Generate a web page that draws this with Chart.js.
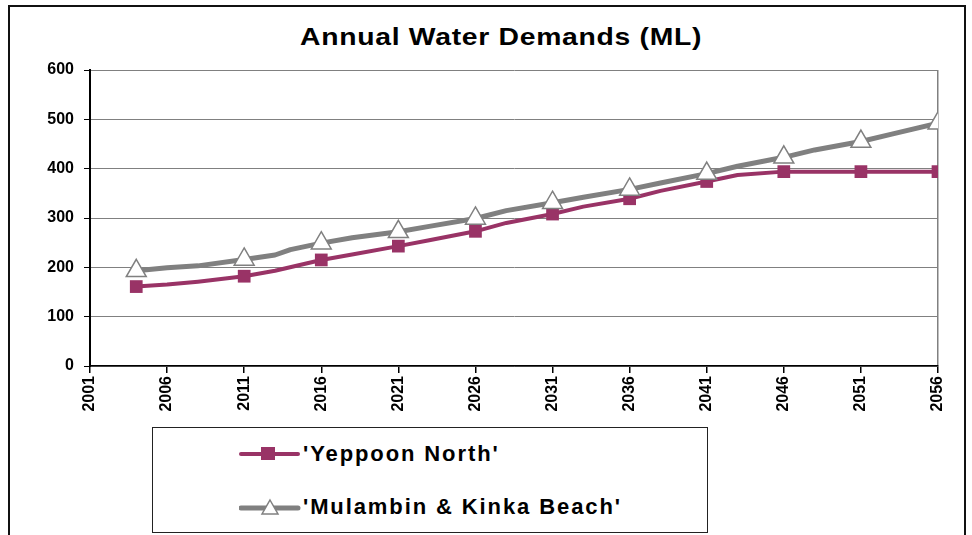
<!DOCTYPE html>
<html>
<head>
  <title>Annual Water Demands</title>
  <script src="https://cdnjs.cloudflare.com/ajax/libs/Chart.js/4.4.1/chart.umd.min.js"></script>
  <style>
    body { margin: 0; background: #fff; font-family: "Liberation Sans", Arial, sans-serif; }
    #frame {
      position: absolute; left: 8px; top: 5px; width: 958px; height: 600px;
      border: 2px solid #111; box-sizing: border-box;
    }
    #title {
      position: absolute; left: 300px; top: 25px; white-space: nowrap;
      font-weight: bold; font-size: 24px; line-height: 24px; letter-spacing: 0.6px; color: #000;
      transform: scaleX(1.18); transform-origin: left top;
    }
    #wrap { position: absolute; left: 0; top: 0; width: 972px; height: 420px; }
    #legend {
      position: absolute; left: 152px; top: 427px; width: 556px; height: 106px;
      border: 1px solid #222; box-sizing: border-box; background: #fff;
    }
    .item { position: absolute; left: 86px; height: 30px; display: flex; align-items: center; }
    .item span { font-weight: bold; font-size: 22px; letter-spacing: 1.9px; color: #000; margin-left: 2px; }
  </style>
</head>
<body>
<div id="frame"></div>
<div id="title"></div>
<div id="wrap"><canvas id="myChart" width="972" height="420"></canvas></div>
<div id="legend">
  <div class="item" style="top:11px">
    <svg width="62" height="20"><line x1="2" y1="10" x2="59" y2="10" stroke="#993366" stroke-width="4" stroke-linecap="round"/><rect x="22" y="3" width="14" height="13" fill="#993366"/></svg>
    <span id="lab0"></span>
  </div>
  <div class="item" style="top:64px">
    <svg width="62" height="22"><line x1="2" y1="12" x2="59" y2="12" stroke="#808080" stroke-width="5" stroke-linecap="round"/><polygon points="31,4 39,18 23,18" fill="#fff" stroke="#808080" stroke-width="1.5"/></svg>
    <span id="lab1"></span>
  </div>
</div>

<script>
const chartTitle = 'Annual Water Demands (ML)';
const seriesNames = ["'Yeppoon North'", "'Mulambin & Kinka Beach'"];
const xTicks = [2001, 2006, 2011, 2016, 2021, 2026, 2031, 2036, 2041, 2046, 2051, 2056];
const markerYears = [2004, 2011, 2016, 2021, 2026, 2031, 2036, 2041, 2046, 2051, 2056];

const yeppoonYears = [2004, 2006, 2008, 2011, 2013, 2016, 2018, 2021, 2023, 2026, 2028, 2031, 2033, 2036, 2038, 2041, 2043, 2046, 2051, 2056];
const yeppoonValues = [161, 165, 171, 182, 193, 215, 226, 243, 255, 273, 290, 308, 323, 339, 355, 374, 387, 394, 394, 394];

const mulambinYears = [2004, 2006, 2008, 2011, 2013, 2014, 2016, 2018, 2021, 2023, 2026, 2028, 2031, 2033, 2036, 2038, 2041, 2043, 2046, 2048, 2051, 2053, 2056];
const mulambinValues = [193, 199, 203, 216, 225, 236, 249, 260, 272, 283, 299, 315, 331, 342, 358, 371, 390, 405, 423, 438, 455, 470, 492];

document.getElementById('title').textContent = chartTitle;
document.getElementById('lab0').textContent = seriesNames[0];
document.getElementById('lab1').textContent = seriesNames[1];

function toPoints(xs, ys) {
  return xs.map((x, i) => ({ x: x, y: ys[i] }));
}

// markers only on the labelled years, the other points just bend the line
function markerSize(size) {
  return ctx => (ctx.raw && markerYears.includes(ctx.raw.x)) ? size : 0;
}

const font = { family: '"Liberation Sans", Arial, sans-serif', weight: 'bold', size: 16 };

new Chart('myChart', {
  type: 'line',
  data: {
    datasets: [{
      label: seriesNames[0],
      data: toPoints(yeppoonYears, yeppoonValues),
      borderColor: '#993366',
      backgroundColor: '#993366',
      borderWidth: 4,
      pointStyle: 'rect',
      pointRadius: markerSize(9),
      pointBorderWidth: 0,
      order: 1
    }, {
      label: seriesNames[1],
      data: toPoints(mulambinYears, mulambinValues),
      borderColor: '#808080',
      backgroundColor: '#ffffff',
      borderWidth: 5,
      pointStyle: 'triangle',
      pointRadius: markerSize(11.5),
      pointBorderColor: '#808080',
      pointBackgroundColor: '#ffffff',
      pointBorderWidth: 1.5,
      order: 0
    }]
  },
  options: {
    responsive: false,
    animation: false,
    events: [],
    layout: { padding: { left: 8, right: 34, top: 70, bottom: 4 } },
    elements: { line: { tension: 0, borderJoinStyle: 'round', borderCapStyle: 'round' } },
    plugins: {
      legend: { display: false },
      tooltip: { enabled: false },
      title: { display: false }
    },
    scales: {
      x: {
        type: 'linear',
        min: 2001,
        max: 2056,
        afterBuildTicks: s => { s.ticks = xTicks.map(v => ({ value: v })); },
        afterFit: s => { s.height = 50; },
        ticks: {
          minRotation: 90, maxRotation: 90, autoSkip: false,
          color: '#000', font: font, padding: 3,
          callback: v => String(v)
        },
        grid: {
          color: c => (c.tick && c.tick.value === 2056) ? '#808080' : 'rgba(0,0,0,0)',
          tickColor: '#000', tickLength: 7, lineWidth: 1.5
        },
        border: { color: '#000', width: 1.5 }
      },
      y: {
        min: 0,
        max: 600,
        afterFit: s => { s.width = 82; },
        ticks: { stepSize: 100, color: '#000', font: font, padding: 10 },
        grid: { color: '#808080', tickColor: '#000', tickLength: 6, lineWidth: 1 },
        border: { color: '#000', width: 2 }
      }
    }
  }
});
</script>
</body>
</html>
